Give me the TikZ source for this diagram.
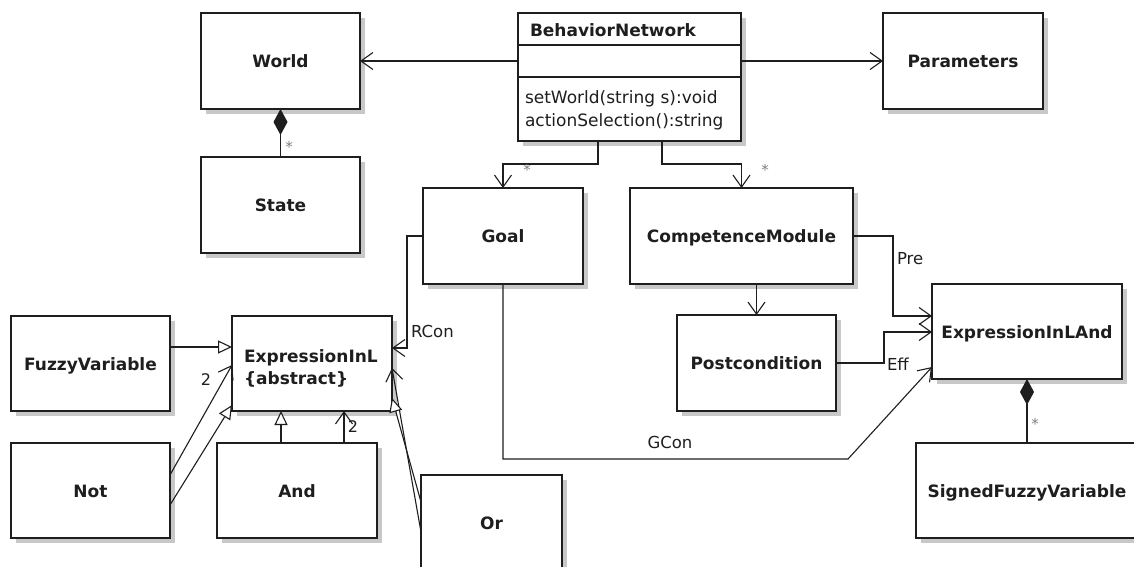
\documentclass[tikz,border=0pt]{standalone}
\usepackage{fontspec}
\setmainfont{DejaVu Sans}
\usetikzlibrary{arrows.meta}

\definecolor{ink}{HTML}{1E1E1E}
\definecolor{shadowgray}{HTML}{C8C8C8}
\definecolor{mult}{HTML}{808080}

\tikzset{
  cls/.style={draw=ink, line width=1.3pt, fill=white, inner sep=0pt, outer sep=0pt,
    text=ink, font=\fontsize{17}{21}\selectfont\bfseries,
    text height=13pt, text depth=0pt},
  boxshadow/.style={fill=shadowgray, draw=none},
  bodytext/.style={inner sep=0pt, outer sep=0pt, text=ink, font=\fontsize{17}{21}\selectfont},
  titletext/.style={bodytext, font=\fontsize{17}{21}\selectfont\bfseries},
  rolelabel/.style={bodytext, font=\fontsize{16.5}{20}\selectfont},
  countlabel/.style={bodytext, font=\fontsize{16}{18}\selectfont},
  starlabel/.style={inner sep=0pt, text=mult, font=\fontsize{15}{17}\selectfont},
  link/.style={draw=ink, line width=1.1pt},
  assoc/.style={link, -{Straight Barb[length=12pt,width=17pt]}},
  inherit/.style={link, -{Triangle[length=14pt,width=13pt,fill=white]}},
  compose/.style={link, {Diamond[length=26pt,width=14pt]}-},
}

% class box: #1 name, #2 centre, #3 width, #4 height, #5 text; a shadow is laid down first
\newcommand\classbox[5]{%
  \fill[boxshadow] ($(#2)+(-#3/2+5,-#4/2+5)$) rectangle ($(#2)+(#3/2+5,#4/2+5)$);
  \node[cls, minimum width=#3pt, minimum height=#4pt] (#1) at (#2) {#5};}

\usetikzlibrary{calc}

\begin{document}
\begin{tikzpicture}[x=1pt,y=-1pt]
\useasboundingbox (0,0) rectangle (1134,567);
\fill[white] (0,0) rectangle (1134,567);
\clip (0,0) rectangle (1134,567);

% ---- classes ----
\classbox{world}{280.5,61}{159}{96}{World}
\classbox{state}{280.5,205}{159}{96}{State}
\classbox{bn}{629.5,77}{223}{128}{}
\classbox{params}{963,61}{160}{96}{Parameters}
\classbox{goal}{503,236}{160}{96}{Goal}
\classbox{cm}{741.5,236}{223}{96}{CompetenceModule}
\classbox{post}{756.5,363}{159}{96}{Postcondition}
\classbox{eland}{1027,331.5}{190}{95}{ExpressionInLAnd}
\classbox{sfv}{1027,490.5}{222}{95}{SignedFuzzyVariable}
\classbox{exprl}{312,363.5}{160}{95}{}
\classbox{fuzzy}{90.5,363.5}{159}{95}{FuzzyVariable}
\classbox{notn}{90.5,490.5}{159}{95}{Not}
\classbox{andn}{297,490.5}{160}{95}{And}
\classbox{orn}{491.5,523}{141}{96}{Or}

% BehaviorNetwork compartments
\draw[ink, line width=1.3pt] ([yshift=-32pt]bn.north west) -- ([yshift=-32pt]bn.north east);
\draw[ink, line width=1.3pt] ([yshift=-64pt]bn.north west) -- ([yshift=-64pt]bn.north east);
\node[titletext, anchor=base west] (bntitle) at ([xshift=12pt,yshift=-24pt]bn.north west) {BehaviorNetwork};
\node[bodytext, anchor=base west] (op1) at ([xshift=7pt,yshift=-90pt]bn.north west) {setWorld(string s):void};
\node[bodytext, anchor=base west] (op2) at ([xshift=7pt,yshift=-114pt]bn.north west) {actionSelection():string};

% abstract expression name
\node[titletext, anchor=base west] (exname) at ([xshift=12pt,yshift=-46pt]exprl.north west) {ExpressionInL};
\node[titletext, anchor=base west] (exabs) at ([xshift=12pt,yshift=-68pt]exprl.north west) {\{abstract\}};

% ---- connectors ----
\draw[assoc] (bn.west |- world.east) -- (world.east);
\draw[assoc] (bn.east |- params.west) -- (params.west);
\draw[compose] (world.south) -- (state.north);
\node[starlabel] (s1) at (289,147) {*};

\draw[assoc] ([xshift=-31.5pt]bn.south) -- ++(0,23) -| (goal.north);
\node[starlabel] (s2) at (527,170) {*};
\draw[assoc] ([xshift=32.5pt]bn.south) -- ++(0,23) -| (cm.north);
\node[starlabel] (s3) at (765,170) {*};

\draw[assoc] (post.north |- cm.south) -- (post.north);

\draw[assoc] (cm.east) -- ++(40,0) |- ([yshift=15.5pt]eland.west);
\node[rolelabel, anchor=west] (pre) at (897,259) {Pre};
\draw[assoc] (post.east) -- ++(48,0) |- ([yshift=-0.5pt]eland.west);
\node[rolelabel, anchor=west] (eff) at (887,364) {Eff};

\draw[assoc] (goal.south) -- ++(0,175) -- ++(345,0) -- ([yshift=-35.5pt]eland.west);
\node[rolelabel] (gcon) at (670,442) {GCon};

\draw[assoc] (goal.west) -- ++(-16,0) |- ([yshift=15.5pt]exprl.east);
\node[rolelabel, anchor=west] (rcon) at (411,331) {RCon};

\draw[compose] (eland.south) -- (sfv.north);
\node[starlabel] (s4) at (1035,424) {*};

\draw[inherit] ([yshift=16.5pt]fuzzy.east) -- ([yshift=16.5pt]exprl.west);
\draw[assoc] ([yshift=15.5pt]notn.east) -- ([yshift=-1.5pt]exprl.west);
\node[countlabel] (n2a) at (206,380) {2};
\draw[inherit] ([yshift=-14.5pt]notn.east) -- ([yshift=-41.5pt]exprl.west);

\draw[inherit] ([xshift=-16pt]andn.north) -- ([xshift=-16pt]andn.north |- exprl.south);
\draw[assoc] ([xshift=47pt]andn.north) -- ([xshift=47pt]andn.north |- exprl.south);
\node[countlabel] (n2b) at (353,427) {2};

\draw[assoc] ([yshift=-9pt]orn.west) -- ([yshift=-4.5pt]exprl.east);
\draw[inherit] ([yshift=21pt]orn.west) -- ([yshift=-34.5pt]exprl.east);
\end{tikzpicture}
\end{document}
